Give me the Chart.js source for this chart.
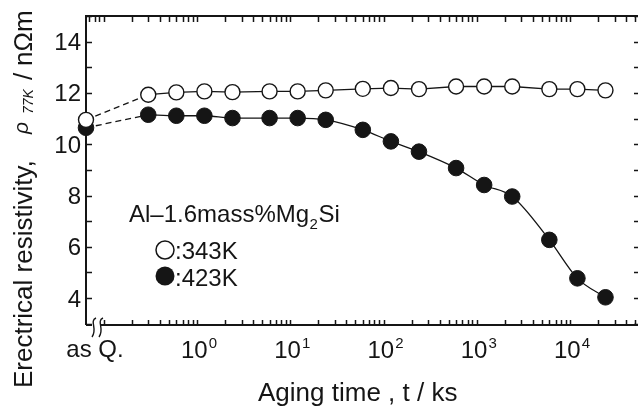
<!DOCTYPE html>
<html><head><meta charset="utf-8">
<script src="https://cdn.jsdelivr.net/npm/chart.js@4/dist/chart.umd.min.js"></script>
<style>
html,body{margin:0;padding:0;background:#fff;overflow:hidden}
#wrap{width:638px;height:409px;overflow:hidden;position:relative;background:#fff}
canvas{display:block}
</style>
</head><body>
<div id="wrap"><canvas id="c" width="650" height="409"></canvas></div>
<script>
// ---- data ----
const agingTimes = [0.3, 0.6, 1.2, 2.4, 6, 12, 24, 60, 120, 240, 600, 1200, 2400, 6000, 12000, 24000]; // ks
const rho343 = [11.93, 12.02, 12.06, 12.03, 12.06, 12.06, 12.10, 12.16, 12.19, 12.15, 12.25, 12.25, 12.25, 12.15, 12.15, 12.10];
const rho423 = [11.15, 11.11, 11.11, 11.02, 11.02, 11.02, 10.95, 10.56, 10.11, 9.71, 9.07, 8.41, 7.96, 6.27, 4.77, 4.03];
const asQuenched343 = 10.95;
const asQuenched423 = 10.64;
const yTickLabels = ['4', '6', '8', '10', '12', '14'];
const xDecadeExponents = ['0', '1', '2', '3', '4'];
const asQLabel = 'as Q.';
const seriesLabels = [':343K', ':423K'];
const alloyLabel = ['Al\u20131.6mass%Mg', '2', 'Si'];
const xTitle = 'Aging time , t / ks';
const yTitleParts = ['Erectrical resistivity,', '\u03c1', '77K', '/', 'n\u03a9m'];

// axis ranges
const X_MIN = 0.0645, X_MAX = 56300;   // as-quenched state sits on the left edge
const Y_MIN = 2.95, Y_MAX = 15.0;
const INK = '#151515';
const FONT = '"Liberation Sans", Arial, Helvetica, sans-serif';

const frame = {
  id: 'frame',
  beforeDatasetsDraw(chart) {
    const {ctx, chartArea: a, scales: {x, y}} = chart;
    ctx.save();
    ctx.strokeStyle = INK; ctx.fillStyle = INK;
    ctx.lineWidth = 2;
    ctx.beginPath();
    ctx.moveTo(a.left, a.bottom); ctx.lineTo(a.left, a.top); ctx.lineTo(a.right, a.top); ctx.lineTo(a.right, a.bottom);
    ctx.moveTo(a.left, a.bottom); ctx.lineTo(a.right, a.bottom);
    ctx.stroke();
    // y ticks (inward)
    ctx.lineWidth = 1.5;
    ctx.beginPath();
    for (let v = Math.ceil(Y_MIN); v <= Math.floor(Y_MAX); v++) {
      const py = Math.round(y.getPixelForValue(v)) + 0.5;
      ctx.moveTo(a.left, py); ctx.lineTo(a.left + 6, py);
      ctx.moveTo(a.right - 6, py); ctx.lineTo(a.right, py);
    }
    // x ticks (inward), log minor ticks
    for (let k = -2; k <= 5; k++) {
      for (let m = 1; m <= 9; m++) {
        const val = m * Math.pow(10, k);
        if (val < X_MIN * 1.05 || val > X_MAX) continue;
        const px = Math.round(x.getPixelForValue(val)) + 0.5;
        ctx.moveTo(px, a.top); ctx.lineTo(px, a.top + 6);
        if (val >= 0.1) { ctx.moveTo(px, a.bottom); ctx.lineTo(px, a.bottom - 5); }
      }
    }
    ctx.stroke();
    // axis break marks
    ctx.lineWidth = 1.4;
    ctx.fillStyle = '#fff';
    ctx.fillRect(a.left + 6, a.bottom - 2, 8, 4);
    [a.left + 7, a.left + 14].forEach(bx => {
      ctx.beginPath();
      ctx.moveTo(bx + 3, a.bottom - 7);
      ctx.bezierCurveTo(bx - 4, a.bottom - 4, bx + 5, a.bottom + 4, bx - 1, a.bottom + 12);
      ctx.stroke();
    });
    ctx.fillStyle = INK;
    // y tick labels
    ctx.font = '24px ' + FONT;
    ctx.textAlign = 'right'; ctx.textBaseline = 'alphabetic';
    yTickLabels.forEach(t => {
      const py = y.getPixelForValue(parseFloat(t));
      ctx.fillText(t, 81, py + 8.5);
    });
    // x tick labels 10^n
    xDecadeExponents.forEach(e => {
      const px = x.getPixelForValue(Math.pow(10, parseFloat(e)));
      ctx.font = '24px ' + FONT;
      const w10 = ctx.measureText('10').width;
      ctx.font = '15px ' + FONT;
      const ws = ctx.measureText(e).width;
      const start = px + 2 - (w10 + 1 + ws) / 2;
      ctx.textAlign = 'left';
      ctx.font = '24px ' + FONT;
      ctx.fillText('10', start, 358);
      ctx.font = '15px ' + FONT;
      ctx.fillText(e, start + w10 + 1, 348);
    });
    ctx.font = '24px ' + FONT;
    ctx.textAlign = 'center';
    ctx.fillText(asQLabel, 95, 357);
    // x title
    ctx.font = '26px ' + FONT;
    ctx.textAlign = 'left';
    ctx.fillText(xTitle, 258, 401);
    // y title (rotated)
    const rot = (txt, font, bx, by) => {
      ctx.save(); ctx.translate(bx, by); ctx.rotate(-Math.PI / 2);
      ctx.font = font; ctx.textAlign = 'left'; ctx.fillText(txt, 0, 0); ctx.restore();
    };
    rot(yTitleParts[0], '26px ' + FONT, 32, 388);
    rot(yTitleParts[1], 'italic 21px ' + FONT, 28, 134);
    rot(yTitleParts[2], 'italic 14px ' + FONT, 33, 114);
    rot(yTitleParts[3], '26px ' + FONT, 32, 80);
    rot(yTitleParts[4], '26px ' + FONT, 32, 66);
    // legend
    ctx.textAlign = 'left';
    ctx.font = '24px ' + FONT;
    ctx.fillText(alloyLabel[0], 129, 222);
    let wx = 129 + ctx.measureText(alloyLabel[0]).width;
    ctx.font = '15px ' + FONT;
    ctx.fillText(alloyLabel[1], wx + 0.5, 229);
    wx += ctx.measureText(alloyLabel[1]).width + 1;
    ctx.font = '24px ' + FONT;
    ctx.fillText(alloyLabel[2], wx, 222);
    ctx.lineWidth = 1.5;
    ctx.beginPath(); ctx.arc(165, 250, 9, 0, Math.PI * 2);
    ctx.fillStyle = '#fff'; ctx.fill(); ctx.stroke();
    ctx.beginPath(); ctx.arc(165, 276, 9.5, 0, Math.PI * 2);
    ctx.fillStyle = INK; ctx.fill();
    ctx.fillText(seriesLabels[0], 175, 259);
    ctx.fillText(seriesLabels[1], 175, 286);
    ctx.restore();
  }
};

const pts = (xs, ys) => xs.map((t, i) => ({x: t, y: ys[i]}));

new Chart(document.getElementById('c'), {
  type: 'line',
  data: {
    datasets: [
      {label: 'as Q. 343K', data: [{x: X_MIN, y: asQuenched343}], showLine: false,
       pointRadius: 7.5, pointBackgroundColor: '#fff', pointBorderColor: INK, pointBorderWidth: 1.4, clip: false},
      {label: 'as Q. 423K', data: [{x: X_MIN, y: asQuenched423}], showLine: false,
       pointRadius: 7.8, pointBackgroundColor: INK, pointBorderColor: INK, pointBorderWidth: 1, clip: false},
      {label: '343K', data: pts(agingTimes, rho343), borderColor: INK, borderWidth: 1.3,
       pointRadius: 7.5, pointBackgroundColor: '#fff', pointBorderColor: INK, pointBorderWidth: 1.4, tension: 0, clip: false},
      {label: '423K', data: pts(agingTimes, rho423), borderColor: INK, borderWidth: 1.3,
       pointRadius: 7.8, pointBackgroundColor: INK, pointBorderColor: INK, pointBorderWidth: 1,
       cubicInterpolationMode: 'monotone', clip: false},
      {label: '343K dashed', data: [{x: X_MIN, y: asQuenched343}, {x: agingTimes[0], y: rho343[0]}],
       borderColor: INK, borderWidth: 1.3, borderDash: [6, 4], pointRadius: 0, clip: false},
      {label: '423K dashed', data: [{x: X_MIN, y: asQuenched423}, {x: agingTimes[0], y: rho423[0]}],
       borderColor: INK, borderWidth: 1.3, borderDash: [6, 4], pointRadius: 0, clip: false}
    ]
  },
  options: {
    responsive: false, animation: false, devicePixelRatio: 1, events: [],
    layout: {padding: {left: 86, top: 16, right: 10, bottom: 84}},
    scales: {
      x: {type: 'logarithmic', min: X_MIN, max: X_MAX, display: false},
      y: {type: 'linear', min: Y_MIN, max: Y_MAX, display: false}
    },
    plugins: {legend: {display: false}, tooltip: {enabled: false}, title: {display: false}}
  },
  plugins: [frame]
});
</script>
</body></html>
